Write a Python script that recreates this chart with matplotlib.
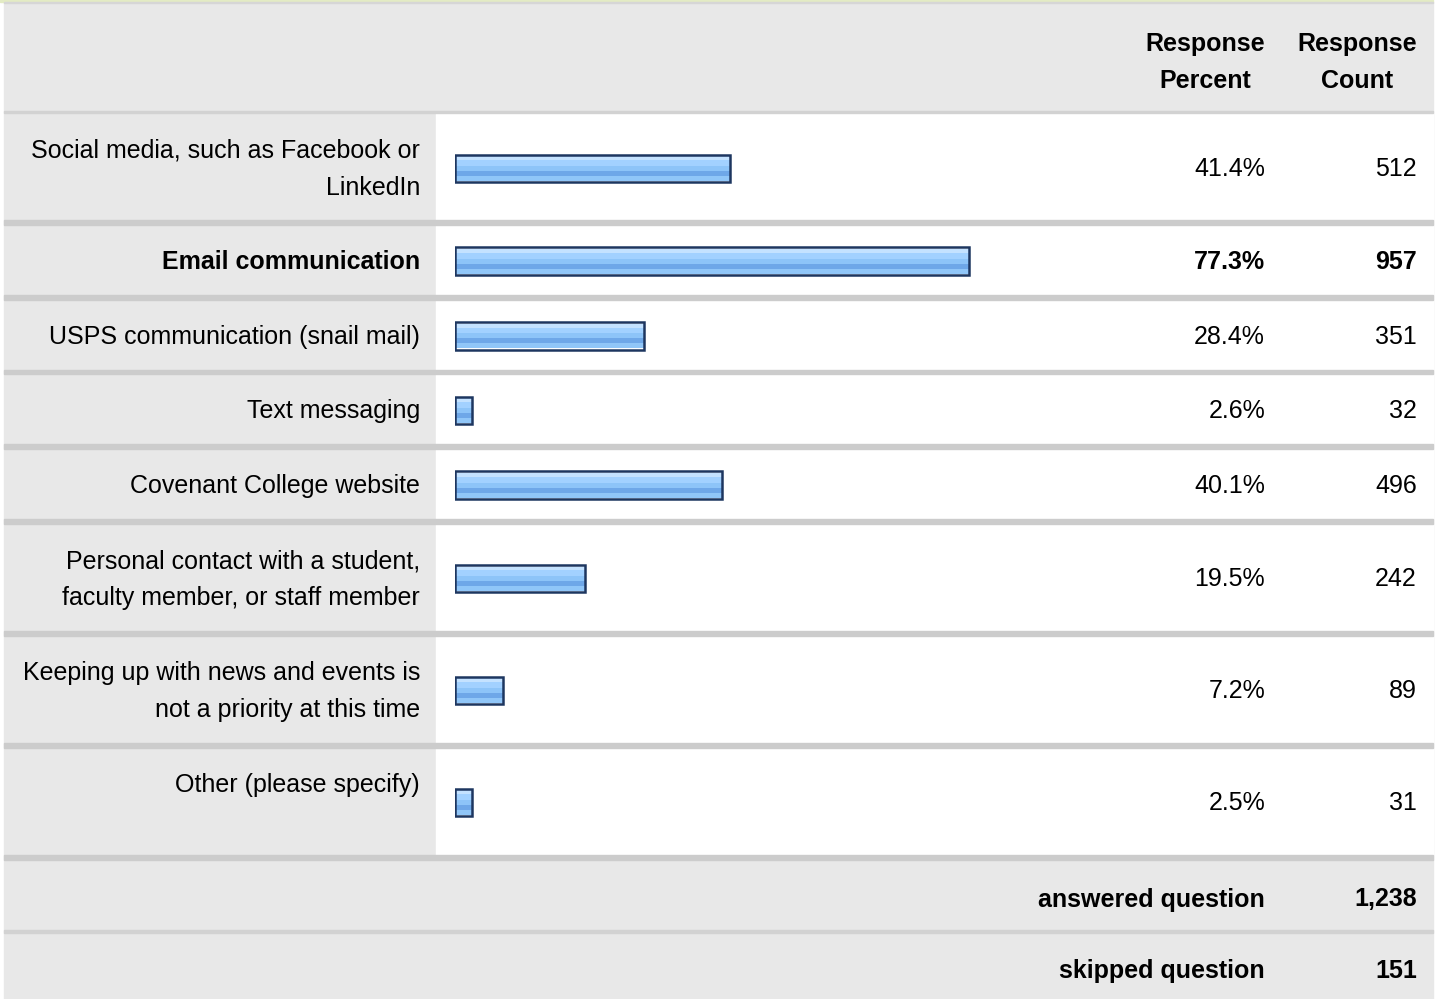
import matplotlib
matplotlib.use("Agg")
import matplotlib.pyplot as plt
from matplotlib.patches import Rectangle

# ---- data ----
labels = [
    "Social media, such as Facebook or\nLinkedIn",
    "Email communication",
    "USPS communication (snail mail)",
    "Text messaging",
    "Covenant College website",
    "Personal contact with a student,\nfaculty member, or staff member",
    "Keeping up with news and events is\nnot a priority at this time",
    "Other (please specify)\n",
]
percents = [41.4, 77.3, 28.4, 2.6, 40.1, 19.5, 7.2, 2.5]
counts = [512, 957, 351, 32, 496, 242, 89, 31]
header_percent = "Response\nPercent"
header_count = "Response\nCount"
answered_label = "answered question"
answered_value = 1238
skipped_label = "skipped question"
skipped_value = 151

# ---- layout (pixels) ----
W, H = 1440, 999
FONT = "Liberation Sans"
FS = 18
GRAY = "#e8e8e8"
SEP = "#cccccc"
seps = [111.8, 222.5, 297.5, 372, 446.5, 521.5, 633.5, 745, 857.5, 931.5]
sep_w = [2.6, 5, 5, 4.2, 5, 5, 5, 5, 5, 2.6]
X0, X1 = 4, 1433
LABEL_X = 420
PCT_X = 1265
CNT_X = 1417
BAR_L, BAR_R = 455, 1120
LS = 1.68

fig = plt.figure(figsize=(W / 100, H / 100), dpi=100)
ax = fig.add_axes([0, 0, 1, 1])
ax.set_xlim(0, W)
ax.set_ylim(H, 0)
ax.axis("off")

# backgrounds
ax.add_patch(Rectangle((0, 0), W, H, color="white", zorder=0))
ax.add_patch(Rectangle((X0, 2), X1 - X0, H - 2, color=GRAY, zorder=1))
ax.add_patch(Rectangle((0, 0), X1, 2.2, color="#e3ebc4", zorder=3))
ax.add_patch(Rectangle((X0, 2.2), X1 - X0, 1.2, color="#d6d6d6", zorder=3))
# white data area
ax.add_patch(Rectangle((436, seps[0]), X1 - 436, seps[8] - seps[0], color="white", zorder=1))
for y, w in zip(seps, sep_w):
    c = SEP if w > 3 else "#d2d2d2"
    ax.add_patch(Rectangle((X0, y - w / 2), X1 - X0, w, color=c, zorder=2))

txt = dict(fontfamily=FONT, fontsize=FS, color="#000000", zorder=5)

# header
hy = 62.5
ax.text(1205, hy, header_percent, ha="center", va="center", fontweight="bold",
        linespacing=LS, **txt)
ax.text(1357, hy, header_count, ha="center", va="center", fontweight="bold",
        linespacing=LS, **txt)

# bars axis in percent units
bax = fig.add_axes([BAR_L / W, 0, (BAR_R - BAR_L) / W, 1])
bax.set_xlim(0, 100)
bax.set_ylim(H, 0)
bax.axis("off")
bax.patch.set_alpha(0)

imax = percents.index(max(percents))
stripes = [(-12.0, -8.3, "#c4e2ff"), (-8.3, -2.7, "#a2d1ff"), (-2.7, 2.3, "#8dc4f8"),
           (2.3, 7.3, "#6ea7e8"), (7.3, 12.5, "#90c6f8")]
for i, (lab, p, c) in enumerate(zip(labels, percents, counts)):
    yc = (seps[i] + seps[i + 1]) / 2
    bold = "bold" if i == imax else "normal"
    ax.text(LABEL_X, yc + 2, lab, ha="right", va="center", fontweight=bold,
            linespacing=LS, **txt)
    ax.text(PCT_X, yc + 2, f"{p:.1f}%", ha="right", va="center", fontweight=bold, **txt)
    ax.text(CNT_X, yc + 2, f"{c:,}", ha="right", va="center", fontweight=bold, **txt)
    by = yc + 1.2
    for a, b, col in stripes:
        bax.barh(by + (a + b) / 2, p, height=b - a, left=0, color=col, zorder=3)
    bax.barh(by, p, height=27.5, left=0, facecolor="none", edgecolor="#1d3660",
             linewidth=1.8, zorder=4)

# footer
fy1 = (seps[8] + seps[9]) / 2 + 5
fy2 = (seps[9] + H) / 2 + 5.5
ax.text(PCT_X, fy1, answered_label, ha="right", va="center", fontweight="bold", **txt)
ax.text(CNT_X, fy1, f"{answered_value:,}", ha="right", va="center", fontweight="bold", **txt)
ax.text(PCT_X, fy2, skipped_label, ha="right", va="center", fontweight="bold", **txt)
ax.text(CNT_X, fy2, f"{skipped_value:,}", ha="right", va="center", fontweight="bold", **txt)

fig.savefig("out.png", dpi=100)
